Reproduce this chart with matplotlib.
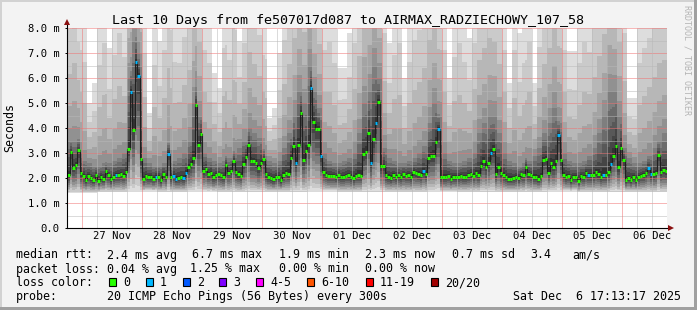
import numpy as np
import pandas as pd
import matplotlib
matplotlib.use("Agg")
import matplotlib.pyplot as plt
import matplotlib.dates as mdates
from matplotlib.patches import Rectangle

W, H = 697, 310
MONO = "DejaVu Sans Mono"

# hourly median rtt (ms), 26 Nov 18:00 .. 06 Dec 17:00
median_ms = [
    2.12, 3.04, 2.41, 2.51, 3.11, 2.19, 2.08, 1.92, 2.09, 1.99,
    1.93, 2.11, 1.89, 2.05, 1.97, 2.28, 2.11, 1.95, 2.05, 2.12,
    2.11, 2.16, 2.08, 2.24, 3.16, 5.45, 3.92, 6.64, 6.08, 2.76,
    1.97, 2.08, 2.03, 2.05, 1.97, 2.05, 2.05, 1.92, 2.16, 2.05,
    2.97, 2.03, 2.08, 1.97, 1.99, 2.03, 1.99, 2.21, 2.44, 2.56,
    2.80, 4.92, 3.32, 3.76, 2.29, 2.36, 2.15, 2.21, 2.03, 2.11,
    2.15, 2.11, 2.05, 2.52, 2.21, 2.29, 2.68, 2.25, 2.16, 2.09,
    2.55, 2.84, 3.31, 2.68, 2.67, 2.61, 2.39, 2.61, 2.76, 2.16,
    2.05, 2.01, 1.95, 2.05, 2.05, 1.92, 2.12, 2.21, 2.16, 2.79,
    3.28, 2.59, 3.31, 4.59, 2.71, 3.09, 3.32, 5.59, 4.25, 3.97,
    3.97, 2.87, 2.23, 2.12, 2.09, 2.08, 2.08, 2.05, 2.12, 2.05,
    2.03, 2.08, 2.12, 2.05, 1.99, 2.08, 2.12, 2.09, 2.95, 3.03,
    3.79, 2.61, 3.57, 4.20, 5.05, 2.49, 2.49, 2.12, 2.05, 2.01,
    2.12, 2.05, 2.11, 2.05, 2.15, 2.09, 2.12, 2.05, 2.23, 2.19,
    2.16, 2.12, 2.29, 2.16, 2.80, 2.87, 2.87, 3.45, 3.95, 2.03,
    2.05, 2.03, 2.08, 1.97, 2.05, 2.03, 2.03, 2.08, 2.05, 2.05,
    2.12, 2.16, 2.08, 2.21, 2.12, 2.49, 2.67, 2.45, 2.59, 2.99,
    3.15, 2.16, 2.44, 2.19, 2.12, 2.05, 1.97, 1.97, 1.99, 2.05,
    2.01, 2.16, 2.12, 2.45, 2.16, 2.12, 2.05, 2.05, 1.97, 2.08,
    2.72, 2.76, 2.21, 2.59, 2.45, 2.67, 3.72, 2.72, 2.12, 2.03,
    2.08, 1.92, 2.03, 2.05, 1.89, 2.08, 2.03, 2.21, 2.12, 2.12,
    2.12, 2.24, 2.16, 2.05, 2.12, 2.11, 2.24, 2.56, 2.88, 3.28,
    2.43, 3.21, 2.72, 1.92, 2.00, 1.92, 2.05, 1.92, 2.03, 2.09,
    2.11, 2.19, 2.39, 2.16, 2.15, 2.19, 2.92, 2.25, 2.32, 2.30,
]
# hours where 1 of 20 pings was lost
loss1_hours = [19, 25, 27, 28, 35, 40, 42, 43, 46, 47, 91, 97, 101, 121, 123,
               142, 148, 169, 196, 208, 214, 217, 232, 233]

# smoke, 2 hour slots: upper quartile and max ping (ms)
upper_ms = [
    3.5, 3.5, 3.0,
    2.7, 2.6, 2.5, 2.5, 2.6, 2.6, 2.7, 2.8, 3.0,
    6.0, 7.5, 6.5,
    2.8, 2.6, 2.5, 2.5, 2.6, 2.6, 2.7, 2.8, 3.0,
    3.5, 5.0, 4.5,
    3.0, 2.8, 2.7, 2.6, 2.7, 2.8, 3.0, 3.2, 3.5,
    4.0, 3.8, 3.6,
    2.9, 2.7, 2.6, 2.7, 3.2, 3.8,
    4.5, 5.5, 5.0, 6.5, 5.5, 4.8,
    3.0, 2.7, 2.6, 2.6, 2.7, 2.8, 3.0,
    3.8, 5.0, 5.5, 6.5, 6.0,
    3.2, 2.8, 2.7, 2.6, 2.6, 2.7, 2.8, 3.0, 3.3,
    4.2, 5.0, 4.5,
    3.0, 2.7, 2.6, 2.6, 2.7, 2.8, 3.0,
    3.8, 4.2, 4.5, 4.5, 3.8,
    3.0, 2.7, 2.6, 2.5, 2.6, 2.7, 2.9, 3.2,
    3.8, 4.2, 4.8, 4.2,
    3.0, 2.7, 2.6, 2.6, 2.7, 2.9, 3.2,
    3.8, 4.5, 5.5, 5.5, 4.5,
    3.2, 2.8, 2.6, 2.6, 2.7, 2.9, 3.2, 3.5, 3.8,
]
max_ms = [
    10.5, 12.0, 9.5, 9.0, 5.0, 5.8, 9.0, 10.5, 7.2, 9.5,
    11.0, 9.0, 13.0, 14.0, 12.0, 9.5, 4.6, 9.0, 7.5, 10.0,
    11.5, 9.0, 8.8, 10.5, 11.0, 13.0, 12.0, 9.5, 8.8, 6.2,
    5.6, 10.0, 9.0, 11.0, 7.5, 9.5, 12.0, 11.0, 10.0, 9.0,
    4.4, 4.8, 7.0, 10.0, 11.0, 12.5, 13.0, 12.0, 14.0, 12.0,
    11.0, 9.5, 10.5, 9.0, 6.4, 6.4, 7.8, 10.0, 12.0, 14.0,
    14.0, 15.0, 13.0, 10.5, 7.4, 9.5, 10.5, 6.0, 9.0, 10.5,
    11.0, 12.0, 13.0, 12.5, 11.0, 9.5, 6.0, 9.5, 10.5, 9.0,
    7.6, 10.0, 11.5, 12.0, 12.5, 12.0, 11.0, 9.5, 5.8, 10.0,
    7.8, 9.0, 10.5, 5.8, 9.5, 11.0, 12.0, 13.0, 12.0, 9.5,
    7.1, 7.1, 9.0, 10.5, 9.5, 11.0, 12.0, 13.0, 14.0, 13.0,
    12.0, 10.5, 5.2, 5.2, 9.0, 10.0, 10.5, 11.0, 12.0, 11.5,
]
# lowest ping per 12 h (ms)
min_ms = [1.42, 1.45, 1.48, 1.45, 1.47, 1.45, 1.46, 1.45, 1.48, 1.45,
          1.46, 1.45, 1.47, 1.46, 1.45, 1.46, 1.48, 1.45, 1.46, 1.45]

day_labels = ["27 Nov", "28 Nov", "29 Nov", "30 Nov", "01 Dec",
              "02 Dec", "03 Dec", "04 Dec", "05 Dec", "06 Dec"]
y_labels = ["0.0", "1.0 m", "2.0 m", "3.0 m", "4.0 m",
            "5.0 m", "6.0 m", "7.0 m", "8.0 m"]

loss_labels = ["0", "1", "2", "3", "4-5", "6-10", "11-19", "20/20"]
loss_colors = ["#26ff00", "#00b8ff", "#0059ff", "#7e00ff",
               "#ff00ff", "#ff5500", "#ff0000", "#a10000"]

rtt_stats = ["2.4 ms avg", "6.7 ms max", "1.9 ms min", "2.3 ms now", "0.7 ms sd", "3.4", "am/s"]
loss_stats = ["0.04 % avg", "1.25 % max", "0.00 % min", "0.00 % now"]

# ---- derive the 20 sorted ping levels for the smoke
med = np.array(median_ms)
n = med.size
lo = np.repeat(min_ms, 12)[:n]
pu = np.maximum(np.repeat(upper_ms, 2)[:n], med * 1.15)
top = np.maximum(np.repeat(max_ms, 2)[:n], pu * 1.2)

ranks = []
for k in range(10):
    ranks.append(lo + (med - 0.04 - lo) * (k / 9) ** 1.4)
for m in range(1, 6):
    ranks.append(med + (pu - med) * (m / 5) ** 1.3)
for m in range(1, 6):
    ranks.append(pu * (top / pu) ** ((m / 5) ** 1.3))

hours = pd.date_range("2025-11-26 18:00", periods=n + 1, freq="h")
edges = mdates.date2num(hours)

fig = plt.figure(figsize=(W / 100, H / 100), dpi=100)
fig.patch.set_facecolor("#f3f3f3")
ax = fig.add_axes([67 / W, 1 - 228 / H, 600 / W, 200 / H])
ax.set_facecolor("white")
for s in ax.spines.values():
    s.set_visible(False)

for k in range(10):
    g = int(190 / 10 * (10 - (k + 1))) + 50
    col = "#%02x%02x%02x" % (g, g, g)
    ax.fill_between(edges, np.append(ranks[k], ranks[k][-1]),
                    np.append(ranks[19 - k], ranks[19 - k][-1]),
                    step="post", color=col, lw=0, zorder=1)

# grid, dotted
dot = (0, (1, 1))
for v in np.arange(0.5, 8, 1.0):
    ax.axhline(v, color="#b8b8b8", lw=0.72, ls=dot, zorder=3)
for v in range(1, 9):
    ax.axhline(v, color="#f07070", lw=0.72, ls=dot, zorder=3)
six = pd.date_range("2025-11-27 00:00", "2025-12-06 12:00", freq="6h")
for t in six:
    c = "#f07070" if t.hour == 0 else "#b8b8b8"
    ax.axvline(mdates.date2num(t), color=c, lw=0.72, ls=dot, zorder=3)

# median line with loss colours
ax.plot(edges, np.append(med, med[-1]), drawstyle="steps-post",
        color="#202020", lw=0.8, zorder=4)
loss = np.zeros(n, dtype=int)
loss[loss1_hours] = 1
ax.hlines(med, edges[:-1], edges[1:], colors=[loss_colors[l] for l in loss],
          lw=2.2, zorder=5, capstyle="butt")

ax.set_xlim(edges[0], edges[-1])
ax.set_ylim(0, 8)
noon = mdates.date2num(pd.date_range("2025-11-27 12:00", periods=10, freq="D"))
ax.set_xticks(noon)
ax.set_xticklabels(day_labels, family=MONO, fontsize=7.6)
ax.set_yticks(range(9))
ax.set_yticklabels(y_labels, family=MONO, fontsize=7.6)
ax.tick_params(axis="x", length=0, pad=2.4)
ax.tick_params(axis="y", length=1.5, width=0.7, pad=3.6)

# axes with arrows
ax.plot([0, 0], [0, 1.03], color="black", lw=0.8, transform=ax.transAxes, clip_on=False, zorder=6)
ax.plot([0, 1.005], [0, 0], color="black", lw=0.8, transform=ax.transAxes, clip_on=False, zorder=6)
ax.plot([0], [1.03], marker="^", ms=4, color="#8b1010", mew=0, transform=ax.transAxes, clip_on=False, zorder=7)
ax.plot([1.007], [0], marker=">", ms=4, color="#8b1010", mew=0, transform=ax.transAxes, clip_on=False, zorder=7)


def ftext(x, y, s, size=8.4, **kw):
    fig.text(x / W, 1 - y / H, s, family=MONO, fontsize=size, **kw)


ftext(348, 24, "Last 10 Days from fe507017d087 to AIRMAX_RADZIECHOWY_107_58",
      size=9.6, ha="center", va="baseline")
ftext(10, 128, "Seconds", ha="center", va="center", rotation=90)
ftext(686.5, 5, "RRDTOOL / TOBI OETIKER", size=6, color="#b4b4b4",
      ha="center", va="top", rotation=270)

ftext(16, 258.5, "median rtt:", va="baseline")
for x, s in zip([107, 192, 279, 365, 452, 530, 572], rtt_stats):
    ftext(x, 258.5, s, va="baseline")
ftext(16, 272.5, "packet loss:", va="baseline")
for x, s in zip([107, 190, 279, 365], loss_stats):
    ftext(x, 272.5, s, va="baseline")
ftext(16, 286, "loss color:", va="baseline")
for x, s, c in zip([123, 160, 197, 233, 270, 321, 380, 445], loss_labels, loss_colors):
    fig.add_artist(Rectangle(((x - 14.3) / W, 1 - 285.5 / H), 7.7 / W, 8 / H,
                             transform=fig.transFigure, facecolor=c,
                             edgecolor="black", lw=0.8))
    ftext(x, 286, s, va="baseline")
ftext(16, 300, "probe:", va="baseline")
ftext(107, 300, "20 ICMP Echo Pings (56 Bytes) every 300s", va="baseline")
ftext(513, 300, "Sat Dec  6 17:13:17 2025", va="baseline")

# 3d frame
for (x0, y0, w, h, c) in [(0, 0, W, 2, "#d2d2d2"), (0, 0, 2, H, "#d2d2d2"),
                          (W - 3, 0, 3, H, "#a0a0a0"), (0, H - 3, W, 3, "#a0a0a0")]:
    fig.add_artist(Rectangle((x0 / W, 1 - (y0 + h) / H), w / W, h / H,
                             transform=fig.transFigure, facecolor=c, lw=0))

fig.savefig("out.png", dpi=100, facecolor=fig.get_facecolor())
